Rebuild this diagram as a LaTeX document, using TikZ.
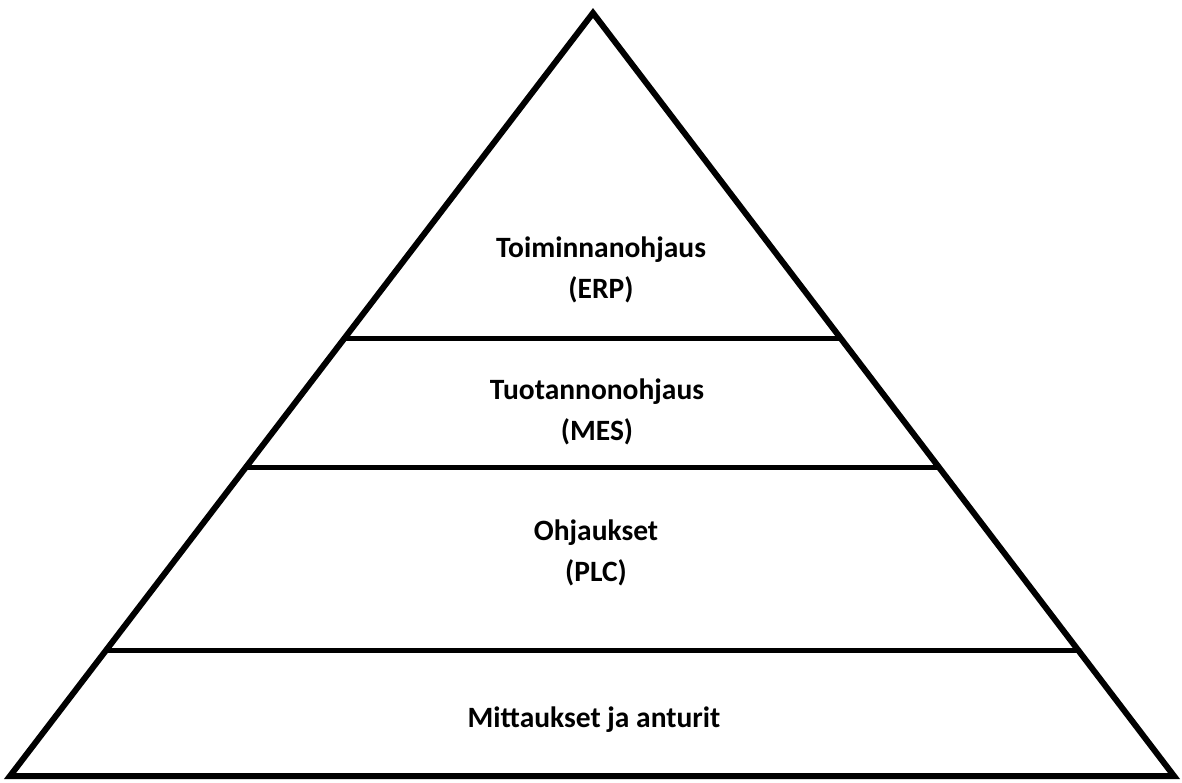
\documentclass[tikz,border=0pt]{standalone}
\usepackage{fontspec}
\setmainfont{Carlito}
\usetikzlibrary{calc}
\begin{document}
\begin{tikzpicture}[x=1pt,y=-1pt,
  layertext/.style={font=\fontsize{29.5}{41}\selectfont\bfseries,align=center},
  divider/.style={line width=5pt}]
  \useasboundingbox (0,0) rectangle (1182,782);
  \coordinate (top) at (593,13);
  \coordinate (bl) at (10,776);
  \coordinate (br) at (1174,776);
  \draw[line width=6pt,line join=miter] (top) -- (bl) -- (br) -- cycle;
  \foreach \f/\n in {0.426/erp,0.596/mes,0.835/plc} {
    \coordinate (\n l) at ($(top)!\f!(bl)$);
    \coordinate (\n r) at ($(top)!\f!(br)$);
    \draw[divider] (\n l) -- (\n r);
  }
  \node[layertext] (erp) at (601,270) {Toiminnanohjaus\\(ERP)};
  \node[layertext] (mes) at (597,412) {Tuotannonohjaus\\(MES)};
  \node[layertext] (plc) at (596,553) {Ohjaukset\\(PLC)};
  \node[layertext] (sensors) at (594,720) {Mittaukset ja anturit};
\end{tikzpicture}
\end{document}
